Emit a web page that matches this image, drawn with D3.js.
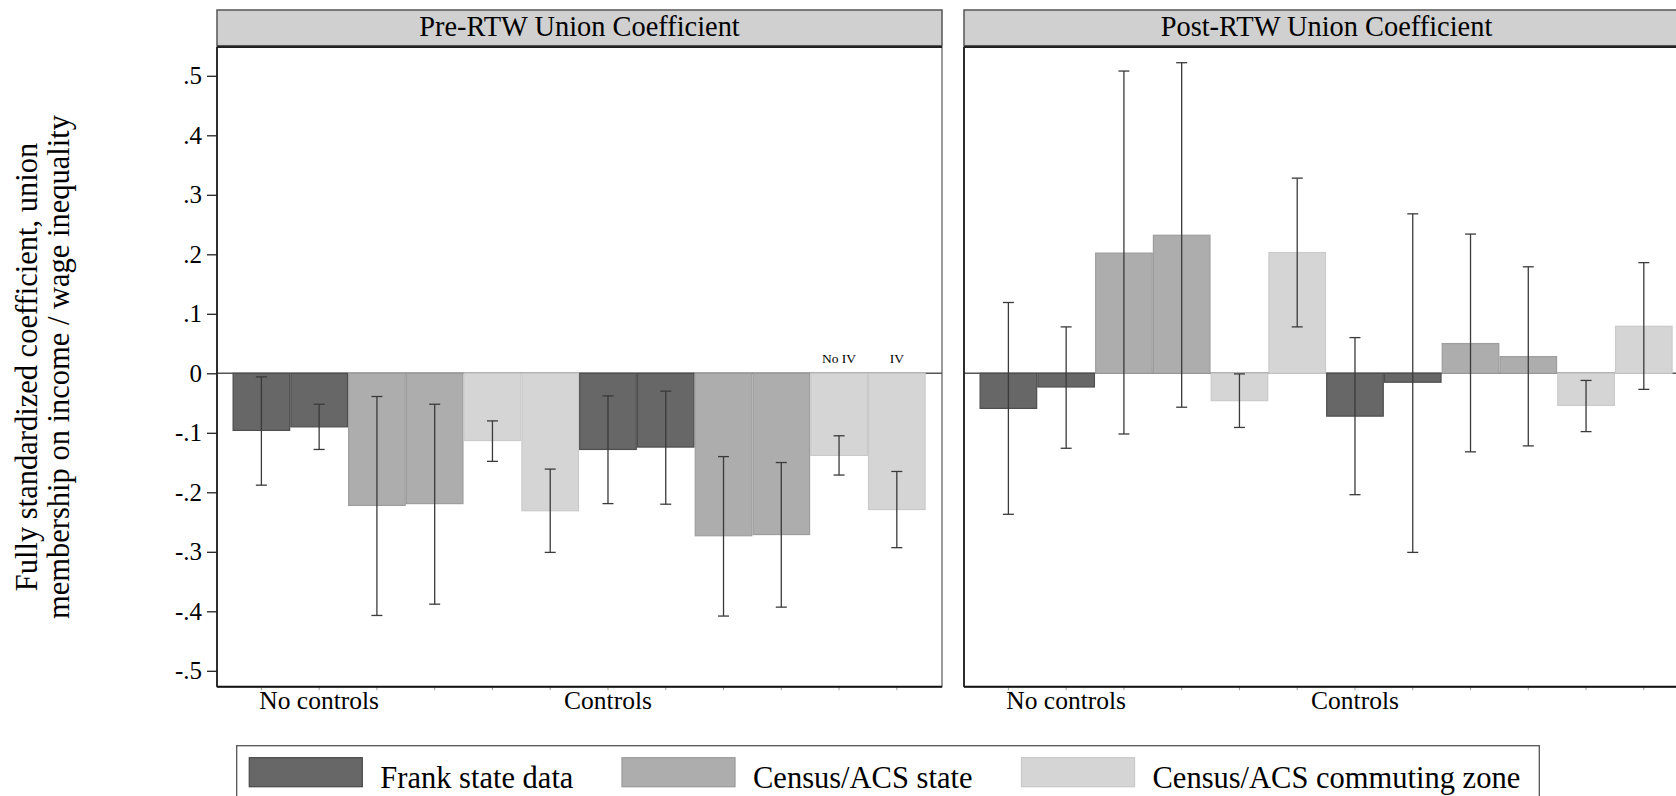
<!DOCTYPE html>
<html lang="en">

<head>
    <meta charset="UTF-8">
    <title>Union coefficient</title>
    <style>
        body {
            margin: 0;
            background-color: white;
        }

        svg {
            display: block;
            background-color: white;
            font-family: "Liberation Serif", "Times New Roman", serif;
        }
    </style>
</head>

<body>
    <script src="https://d3js.org/d3.v7.min.js"></script>
    <script>
        {
            // groups on the x axis, series (fill), and the IV split inside each series
            let groups = ['No controls', 'Controls'];
            let series = ['Frank state data', 'Census/ACS state', 'Census/ACS commuting zone'];
            let ivNames = ['No IV', 'IV'];
            let panels = ['Pre-RTW Union Coefficient', 'Post-RTW Union Coefficient'];
            let yTicks = [0.5, 0.4, 0.3, 0.2, 0.1, 0, -0.1, -0.2, -0.3, -0.4, -0.5];

            // order: group -> series -> (No IV, IV)
            let preCoef = [-0.096, -0.090, -0.222, -0.219, -0.113, -0.231, -0.128, -0.124, -0.273, -0.271, -0.138, -0.229];
            let preLo = [-0.188, -0.128, -0.407, -0.388, -0.148, -0.301, -0.219, -0.220, -0.408, -0.393, -0.171, -0.293];
            let preHi = [-0.006, -0.052, -0.039, -0.052, -0.080, -0.161, -0.038, -0.030, -0.140, -0.150, -0.105, -0.165];

            let postCoef = [-0.059, -0.023, 0.202, 0.232, -0.046, 0.203, -0.072, -0.015, 0.050, 0.028, -0.054, 0.079];
            let postLo = [-0.237, -0.126, -0.102, -0.057, -0.091, 0.078, -0.204, -0.301, -0.132, -0.122, -0.098, -0.027];
            let postHi = [0.119, 0.078, 0.508, 0.522, -0.001, 0.328, 0.060, 0.268, 0.234, 0.179, -0.012, 0.186];

            let fills = ['#676767', '#adadad', '#d5d5d5'];
            let strokes = ['#4e4e4e', '#9d9d9d', '#cacaca'];

            let W = 1676, H = 796;
            let svg = d3.select('body')
                .append('svg')
                .attr('width', W)
                .attr('height', H)
                .attr('font-family', '"Liberation Serif", "Times New Roman", serif');

            let panelW = 725;
            let panelX = [217, 964];
            let headTop = 10, headBot = 45.7, plotTop = 47, plotBot = 686.7;

            let y = d3.scaleLinear().domain([-0.5, 0.5]).range([670.8, 75.8]);

            let rows = [];
            groups.forEach((g, gi) => series.forEach((s, si) => ivNames.forEach((iv, ii) => {
                rows.push({ group: gi, series: si, iv: ii });
            })));

            let panelData = [
                rows.map((r, i) => Object.assign({ v: preCoef[i], lo: preLo[i], hi: preHi[i] }, r)),
                rows.map((r, i) => Object.assign({ v: postCoef[i], lo: postLo[i], hi: postHi[i] }, r))
            ];

            // group labels sit under the 2nd bar of the first group and the 1st bar of the second
            let labelBar = [1, 6];

            function drawPanel(p) {
                let x0 = panelX[p];
                let data = panelData[p];
                let x = d3.scaleBand()
                    .domain(d3.range(data.length))
                    .range([x0 + 15.5, x0 + panelW - 16.3])
                    .padding(0);

                let g = svg.append('g').attr('class', 'panel');

                // header strip
                g.append('rect')
                    .attr('x', x0).attr('y', headTop)
                    .attr('width', panelW).attr('height', headBot - headTop)
                    .attr('fill', '#d0d0d0')
                    .attr('stroke', '#555').attr('stroke-width', 1.5);
                g.append('text')
                    .attr('x', x0 + panelW / 2).attr('y', 36)
                    .attr('text-anchor', 'middle')
                    .attr('font-size', 28.4)
                    .text(panels[p]);

                // plot frame
                g.append('rect')
                    .attr('x', x0).attr('y', plotTop)
                    .attr('width', panelW).attr('height', plotBot - plotTop)
                    .attr('fill', 'white')
                    .attr('stroke', '#666').attr('stroke-width', 1.3);
                g.append('line')
                    .attr('x1', x0).attr('x2', x0 + panelW)
                    .attr('y1', plotTop).attr('y2', plotTop)
                    .attr('stroke', '#222').attr('stroke-width', 1.8);

                // zero line
                g.append('line')
                    .attr('x1', x0).attr('x2', x0 + panelW)
                    .attr('y1', y(0)).attr('y2', y(0))
                    .attr('stroke', '#555').attr('stroke-width', 1.4);

                // bars
                g.selectAll('rect.bar')
                    .data(data)
                    .enter().append('rect')
                    .attr('class', 'bar')
                    .attr('x', (d, i) => x(i) + 0.6)
                    .attr('width', x.bandwidth() - 1.2)
                    .attr('y', d => y(Math.max(0, d.v)))
                    .attr('height', d => Math.abs(y(d.v) - y(0)))
                    .attr('fill', d => fills[d.series])
                    .attr('stroke', d => strokes[d.series])
                    .attr('stroke-width', 1.2);

                // error bars
                let cap = 5.5;
                let eb = g.selectAll('g.err')
                    .data(data)
                    .enter().append('g')
                    .attr('class', 'err')
                    .attr('stroke', '#3a3a3a')
                    .attr('stroke-width', 1.3);
                eb.append('line')
                    .attr('x1', (d, i) => x(i) + x.bandwidth() / 2)
                    .attr('x2', (d, i) => x(i) + x.bandwidth() / 2)
                    .attr('y1', d => y(d.lo)).attr('y2', d => y(d.hi));
                ['lo', 'hi'].forEach(k => {
                    eb.append('line')
                        .attr('x1', (d, i) => x(i) + x.bandwidth() / 2 - cap)
                        .attr('x2', (d, i) => x(i) + x.bandwidth() / 2 + cap)
                        .attr('y1', d => y(d[k])).attr('y2', d => y(d[k]));
                });

                // x axis: small ticks at each bar, group labels
                g.selectAll('line.xt')
                    .data(data)
                    .enter().append('line')
                    .attr('x1', (d, i) => x(i) + x.bandwidth() / 2)
                    .attr('x2', (d, i) => x(i) + x.bandwidth() / 2)
                    .attr('y1', plotBot).attr('y2', plotBot + 3.5)
                    .attr('stroke', '#999').attr('stroke-width', 1);
                g.append('line')
                    .attr('x1', x0).attr('x2', x0 + panelW)
                    .attr('y1', plotBot).attr('y2', plotBot)
                    .attr('stroke', '#111').attr('stroke-width', 2);
                g.append('line')
                    .attr('x1', x0).attr('x2', x0)
                    .attr('y1', plotTop).attr('y2', plotBot)
                    .attr('stroke', '#222').attr('stroke-width', 1.8);
                g.selectAll('text.grp')
                    .data(groups)
                    .enter().append('text')
                    .attr('class', 'grp')
                    .attr('x', (d, i) => x(labelBar[i]) + x.bandwidth() / 2)
                    .attr('y', 709)
                    .attr('text-anchor', 'middle')
                    .attr('font-size', 25.5)
                    .text(d => d);

                return x;
            }

            let xPre = drawPanel(0);
            drawPanel(1);

            // IV markers above the last pair of bars in the first panel
            let lastPair = [10, 11];
            svg.selectAll('text.iv')
                .data(ivNames)
                .enter().append('text')
                .attr('class', 'iv')
                .attr('x', (d, i) => xPre(lastPair[i]) + xPre.bandwidth() / 2)
                .attr('y', 363)
                .attr('text-anchor', 'middle')
                .attr('font-size', 13.5)
                .text(d => d);

            // y axis on the first panel (plain hyphen, no leading zero)
            let yAxis = d3.axisLeft(y)
                .tickValues(yTicks)
                .tickSize(10)
                .tickPadding(5)
                .tickFormat(v => v === 0 ? '0' : (v < 0 ? '-' : '') + d3.format('.1f')(Math.abs(v)).replace('0.', '.'));
            let ya = svg.append('g')
                .attr('transform', 'translate(' + panelX[0] + ',0)')
                .call(yAxis)
                .attr('font-family', '"Liberation Serif", "Times New Roman", serif')
                .attr('font-size', 25);
            ya.select('.domain').remove();
            ya.selectAll('line').attr('stroke', '#222').attr('stroke-width', 1.3);
            ya.selectAll('text').attr('fill', 'black');

            // y title
            let yt = svg.append('g')
                .attr('transform', 'translate(0,367) rotate(-90)')
                .attr('text-anchor', 'middle')
                .attr('font-size', 30.5);
            yt.append('text').attr('x', 0).attr('y', 37).text('Fully standardized coefficient, union');
            yt.append('text').attr('x', 0).attr('y', 69).text('membership on income / wage inequality');

            // legend
            let legX = 236.7, legW = 1539.3 - 236.7;
            let leg = svg.append('g');
            leg.append('rect')
                .attr('x', legX).attr('y', 745.7)
                .attr('width', legW).attr('height', 80)
                .attr('fill', 'white')
                .attr('stroke', '#555').attr('stroke-width', 1.3);
            let legItemX = [249.3, 622, 1021.5];
            let items = leg.selectAll('g.item')
                .data(series)
                .enter().append('g')
                .attr('transform', (d, i) => 'translate(' + legItemX[i] + ',0)');
            items.append('rect')
                .attr('x', 0).attr('y', 757.7)
                .attr('width', 113).attr('height', 29)
                .attr('fill', (d, i) => fills[i])
                .attr('stroke', (d, i) => strokes[i])
                .attr('stroke-width', 1.3);
            items.append('text')
                .attr('x', 131).attr('y', 788)
                .attr('font-size', 30.5)
                .text(d => d);
        }
    </script>
</body>

</html>
